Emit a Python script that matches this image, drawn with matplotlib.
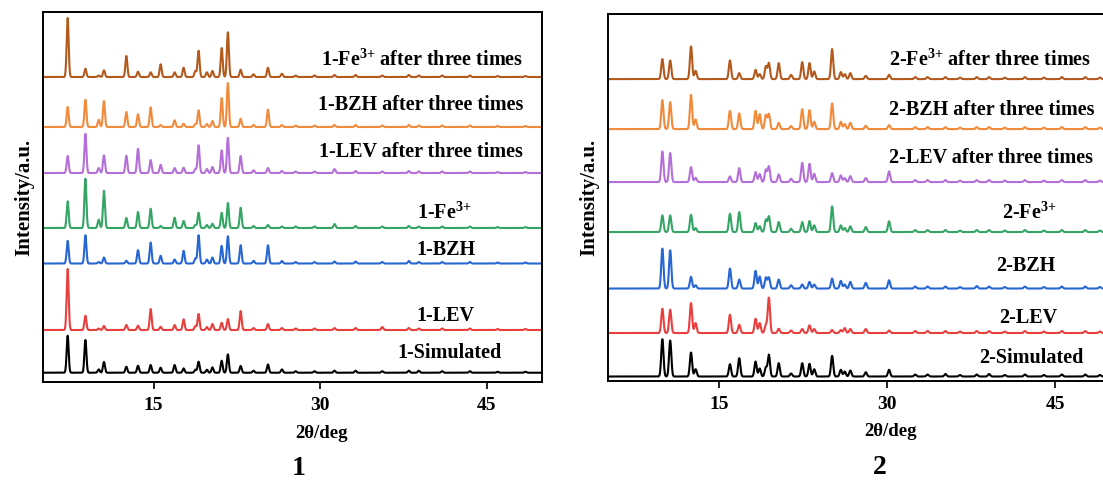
import numpy as np
import matplotlib
matplotlib.use("Agg")
import matplotlib.pyplot as plt

plt.rcParams['font.family'] = ['Liberation Serif', 'DejaVu Serif']
plt.rcParams['font.weight'] = 'bold'
plt.rcParams['mathtext.fontset'] = 'custom'
plt.rcParams['mathtext.rm'] = 'Liberation Serif:bold'
plt.rcParams['mathtext.bf'] = 'Liberation Serif:bold'
plt.rcParams['mathtext.it'] = 'Liberation Serif:bold'

# ---- panel 1: peak positions (2theta, deg) and heights per sample ----
peaks_1 = [7.25, 8.85, 10.05, 10.52, 12.54, 13.59, 14.73, 15.63, 16.89, 17.70,
           18.76, 19.05, 19.8, 20.3, 21.13, 21.69, 22.84, 24.0, 25.3, 26.56,
           27.8, 29.5, 31.3, 33.2, 35.6, 38.0, 38.9, 41.0, 43.5, 46.0, 48.5]
fe_after_1 = [59, 8.3, 1.5, 6.7, 21, 5.3, 4.7, 12.7, 4.7, 9.3, 6, 26.3, 4.7, 6, 29, 44.7,
              7.3, 2.7, 9.3, 3.3, 1.5, 1.5, 2, 2, 1.5, 2, 1.5, 1.5, 1.5, 1, 1]
bzh_after_1 = [20, 27.3, 7.3, 26, 15, 12.7, 19.7, 2, 6.7, 3.3, 3, 16.7, 3, 6, 29, 44,
               8.3, 2, 17.3, 2, 1.5, 1.5, 2, 2, 1.5, 2, 1.5, 1.5, 1.5, 1, 1]
lev_after_1 = [17, 39.3, 5, 17.7, 17.3, 24.3, 13, 8.3, 5, 5.3, 4, 27.7, 4, 6, 22.7, 35.3,
               17, 2.7, 5, 2, 1.5, 1.5, 4, 2, 1.5, 2, 1.5, 1.5, 1.5, 1, 1]
fe_1 = [26.7, 49.3, 8.3, 37.3, 10, 16, 19.3, 2, 10.3, 7, 3, 15.3, 3, 4.3, 15.3, 25,
        20.3, 2, 3, 1.5, 1.5, 1.5, 4, 2, 1.5, 2, 1.5, 1.5, 1.5, 1, 1]
bzh_1 = [22.7, 28.3, 1.5, 6, 2.7, 13.3, 21, 7.7, 4, 12.7, 5, 28.3, 4, 6, 17.7, 27.3,
         18.3, 2.7, 18.3, 2.5, 1.5, 1.5, 2, 2, 1.5, 2.5, 1.5, 1.5, 1.5, 1, 1]
lev_1 = [61, 14.3, 1.5, 4, 5, 4.3, 21, 3.3, 5, 10.7, 4, 16, 3, 6, 7.3, 11,
         19, 2, 6, 2, 1.5, 1.5, 2, 2, 3, 2, 1.5, 1.5, 1.5, 1, 1]
sim_1 = [37, 32.7, 3.3, 10.7, 6, 7, 7.7, 5, 7.7, 4.3, 3, 11, 3, 5.3, 12, 18.3,
         6.7, 2, 8.3, 3.3, 1.5, 1.5, 2, 2, 1.5, 2, 2, 1.5, 1.5, 1, 1]

# ---- panel 2 ----
peaks_2 = [9.9, 10.6, 12.46, 12.87, 15.94, 16.77, 18.23, 18.6, 19.15, 19.42, 20.3,
           21.4, 22.4, 23.05, 23.47, 25.07, 25.85, 26.2, 26.7, 28.08, 30.16,
           32.5, 33.6, 35.2, 36.5, 38.0, 39.1, 40.5, 42.3, 44.0, 45.6, 47.7, 49.0]
fe_after_2 = [20, 18.7, 32.7, 8.3, 18.7, 6, 9.3, 5, 12.7, 16, 16, 4.3, 17, 16, 7.7,
              30, 7, 5, 6, 3.3, 4.3, 2, 2, 2, 1.5, 2, 2, 1.5, 2, 1.5, 2, 2, 1.5]
bzh_after_2 = [29, 27, 34.3, 9.7, 18.3, 15.7, 18.3, 15, 14, 15, 6.3, 3, 20, 19, 7.3,
               25.7, 7.3, 5, 6.3, 3.3, 4, 2, 2, 2, 1.5, 2, 2, 1.5, 2, 1.5, 2, 2, 1.5]
lev_after_2 = [30.7, 29, 15, 4.3, 5.7, 14, 10, 8, 12.3, 15.7, 7.7, 3.3, 19.3, 18.3, 8.3,
               9, 6.7, 4, 6, 4, 10.7, 2, 2, 2, 1.5, 2, 2, 1.5, 2, 1.5, 2, 2, 1.5]
fe_2 = [16.7, 16.7, 17.3, 4, 18.3, 20, 9, 6, 12.3, 15.7, 10, 3.3, 10, 11, 6.7,
        25.7, 6.7, 4, 5.7, 5, 10.7, 2, 2, 2, 1.5, 2, 2, 1.5, 2, 1.5, 2, 2, 1.5]
bzh_2 = [40, 38.3, 11.7, 3.3, 20, 9, 17.7, 12, 11, 11, 9, 3.3, 4, 6.7, 4,
         10, 7.7, 4, 6.7, 5.7, 8.3, 2, 2, 2, 1.5, 2.5, 2, 1.5, 2, 1.5, 2, 2, 1.5]
lev_2 = [24.3, 23.3, 30, 10, 18.3, 8.3, 14.3, 10, 8, 35.3, 4.3, 2.5, 4, 7.7, 4,
         3, 3, 5, 4, 4, 2.5, 2, 2, 2, 1.5, 2, 2, 1.5, 2, 1.5, 2, 2, 1.5]
sim_2 = [37.3, 36, 24, 7.3, 12.3, 18.3, 15, 8, 9, 21.7, 13.3, 3, 13.3, 12.7, 7.3,
         20.7, 6.7, 5, 6, 4.3, 6.7, 2, 2, 2.5, 1.5, 2, 2.5, 1.5, 2, 1.5, 2, 2, 1.5]

colors = ['#B4591C', '#F28A3C', '#B56FD8', '#35A566', '#2866D4', '#E8403F', '#000000']
offsets_1 = [305, 255, 209, 154, 118.5, 52, 9.3]
offsets_2 = [302, 252, 199, 149, 92.5, 48, 4.5]

labels_1 = [r'1-Fe$^{3{+}}$ after three times', '1-BZH after three times',
            '1-LEV after three times', r'1-Fe$^{3{+}}$', '1-BZH', '1-LEV', '1-Simulated']
labels_2 = [r'2-Fe$^{3{+}}$ after three times', '2-BZH after three times',
            '2-LEV after three times', r'2-Fe$^{3{+}}$', '2-BZH', '2-LEV', '2-Simulated']
label_pos_1 = [(39.2, 322), (39.1, 277), (39.1, 230), (41.2, 169), (41.3, 132), (41.3, 66), (41.7, 29)]
label_pos_2 = [(39.2, 321), (39.3, 271), (39.3, 223), (42.7, 168), (42.4, 115), (42.6, 63), (42.9, 23)]

x = np.linspace(5, 50, 6000)


def pattern(pos, heights, width):
    y = np.zeros_like(x)
    for p, h in zip(pos, heights):
        y += h * np.exp(-0.5 * ((x - p) / width) ** 2)
    return y


fig = plt.figure(figsize=(11.03, 4.84), dpi=100)
ax1 = fig.add_axes([0.0387, 0.2107, 0.4527, 0.7645])
ax2 = fig.add_axes([0.5508, 0.2128, 0.4565, 0.7580])

panels = [
    (ax1, peaks_1, [fe_after_1, bzh_after_1, lev_after_1, fe_1, bzh_1, lev_1, sim_1],
     offsets_1, labels_1, label_pos_1, 370, '1', 0.09, 0.559, 0.513, -0.233),
    (ax2, peaks_2, [fe_after_2, bzh_after_2, lev_after_2, fe_2, bzh_2, lev_2, sim_2],
     offsets_2, labels_2, label_pos_2, 367, '2', 0.1, 0.561, 0.541, -0.237),
]

for ax, pos, series, offs, labs, lpos, ytop, name, w, xl, nx, ny in panels:
    for h, off, c in zip(series, offs, colors):
        ax.plot(x, pattern(pos, h, w) + off, color=c, lw=1.5)
    for (lx, ly), t in zip(lpos, labs):
        ax.text(lx, ly, t, ha='center', va='center', fontsize=14.5, fontweight='bold')
    ax.set_xlim(5, 50)
    ax.set_ylim(0, ytop)
    ax.set_xticks([15, 30, 45])
    ax.set_yticks([])
    ax.tick_params(axis='x', direction='out', length=5, width=1.2, labelsize=14, pad=6)
    for s in ax.spines.values():
        s.set_linewidth(1.4)
    ax.set_xlabel('2θ/deg', fontsize=13.5, fontweight='bold')
    ax.xaxis.set_label_coords(xl, -0.115)
    ax.set_ylabel('Intensity/a.u.', fontsize=15, fontweight='bold', labelpad=6)
    ax.text(nx, ny, name, transform=ax.transAxes, ha='center', va='center',
            fontsize=20, fontweight='bold')

fig.savefig('out.png', dpi=100)
